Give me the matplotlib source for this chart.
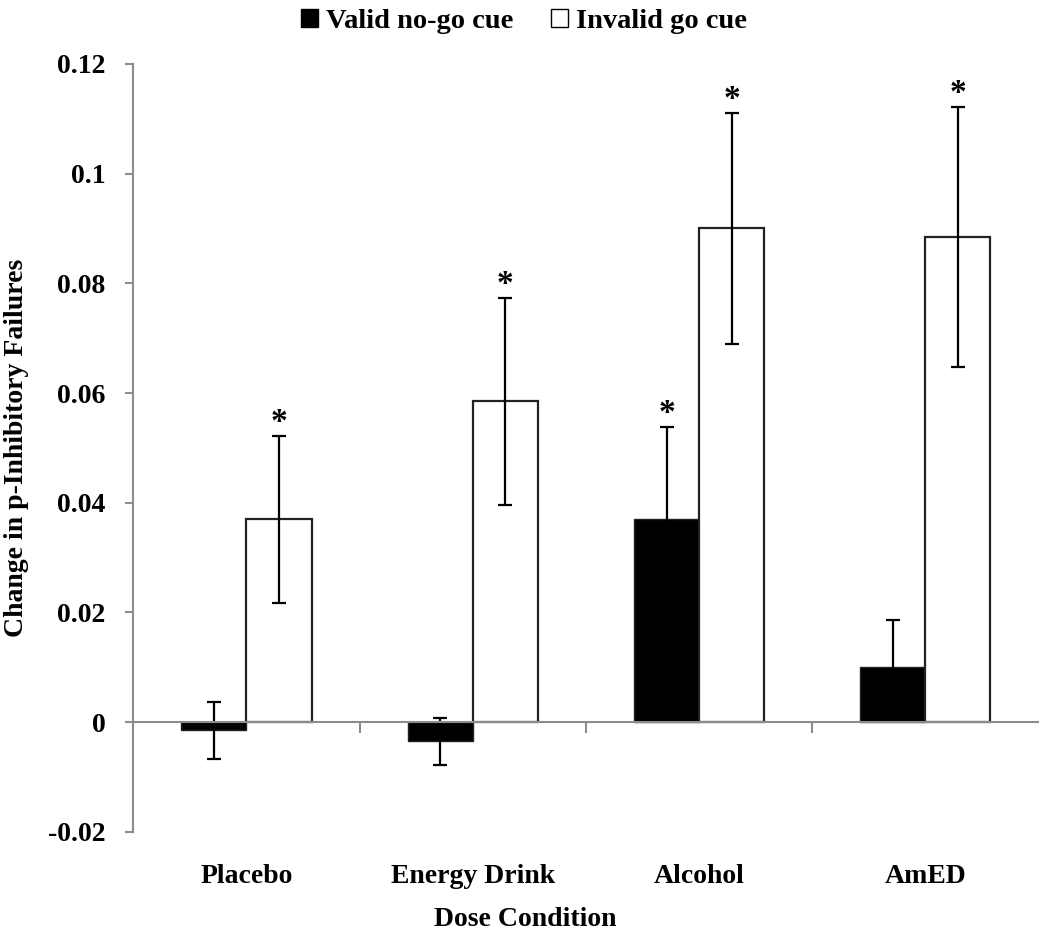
import numpy as np
import matplotlib.pyplot as plt
from matplotlib.patches import Patch

plt.rcParams['font.family'] = ['Liberation Serif', 'DejaVu Serif']
plt.rcParams['font.weight'] = 'bold'
plt.rcParams['axes.labelweight'] = 'bold'

# data
conditions = ['Placebo', 'Energy Drink', 'Alcohol', 'AmED']
valid_nogo = [-0.0015, -0.0035, 0.037, 0.010]
valid_err = [0.0052, 0.0043, 0.0168, 0.0086]
invalid_go = [0.037, 0.0585, 0.090, 0.0885]
invalid_err = [0.0152, 0.0189, 0.021, 0.0237]
valid_sig = [False, False, True, False]
invalid_sig = [True, True, True, True]

fig = plt.figure(figsize=(10.5, 9.39), dpi=100)
ax = fig.add_axes([0.127, 0.114, 0.862, 0.818])

x = np.arange(len(conditions))
w = 0.2875
axis_grey = '#8c8c8c'
ekw = dict(ecolor='black', elinewidth=1.6, capsize=5, capthick=1.6)

ax.bar(x - w / 2, valid_nogo, w, color='black', edgecolor='#222222', linewidth=1,
       yerr=valid_err, error_kw=ekw, zorder=2)
ax.bar(x + w / 2, invalid_go, w, color='white', edgecolor='#222222', linewidth=1.6,
       yerr=invalid_err, error_kw=ekw, zorder=2)

# significance stars
for i in range(len(conditions)):
    if valid_sig[i]:
        ax.text(x[i] - w / 2, valid_nogo[i] + valid_err[i] - 0.0004, '*',
                ha='center', va='bottom', fontsize=24)
    if invalid_sig[i]:
        ax.text(x[i] + w / 2, invalid_go[i] + invalid_err[i] - 0.0004, '*',
                ha='center', va='bottom', fontsize=24)

ax.set_xlim(-0.5, len(conditions) - 0.5)
ax.set_ylim(-0.02, 0.12)
ax.set_yticks([-0.02, 0, 0.02, 0.04, 0.06, 0.08, 0.1, 0.12])
ax.set_yticklabels(['-0.02', '0', '0.02', '0.04', '0.06', '0.08', '0.1', '0.12'])

for s in ['top', 'right']:
    ax.spines[s].set_visible(False)
ax.spines['bottom'].set_position(('data', 0))
ax.spines['bottom'].set_color(axis_grey)
ax.spines['left'].set_color(axis_grey)
ax.spines['bottom'].set_linewidth(1.5)
ax.spines['left'].set_linewidth(1.5)

ax.set_xticks(x[:-1] + 0.5)
ax.set_xticklabels([])
ax.set_xticks(x, minor=True)
ax.set_xticklabels(conditions, minor=True)
ax.tick_params(axis='x', which='major', direction='out', length=8, color=axis_grey, width=1.5)
ax.tick_params(axis='x', which='minor', length=0, pad=102, labelsize=20)
ax.tick_params(axis='y', direction='out', length=6, color=axis_grey, width=1.5,
               labelsize=20, pad=14)

ax.set_ylabel('Change in p-Inhibitory Failures', fontsize=20, fontweight='bold', labelpad=14)
fig.text(0.5, 0.021, 'Dose Condition', ha='center', va='center', fontsize=20)

handles = [Patch(facecolor='black', edgecolor='black'),
           Patch(facecolor='white', edgecolor='black')]
fig.legend(handles, ['Valid no-go cue', 'Invalid go cue'], loc='upper center',
           bbox_to_anchor=(0.499, 1.018), ncol=2, frameon=False, fontsize=20.5,
           handlelength=0.6, handleheight=0.6, handletextpad=0.3, columnspacing=1.3)

fig.savefig('out.png', dpi=100)
